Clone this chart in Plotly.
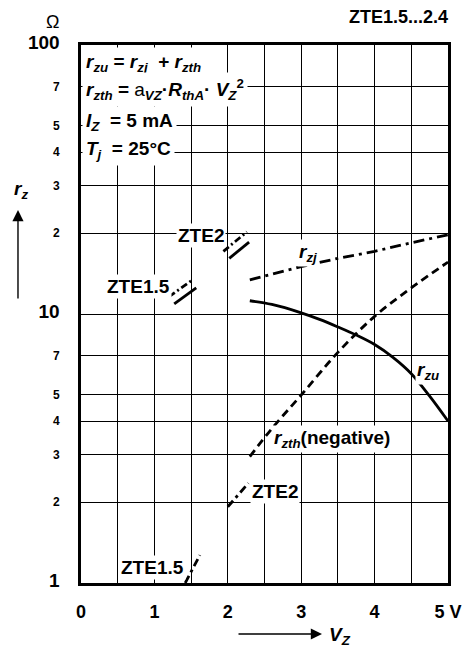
import plotly.graph_objects as go

# values
rzj_v = [2.3, 3.0, 3.5, 4.0, 4.5, 5.0]
rzj = [13.4, 15.0, 16.1, 17.1, 18.4, 19.7]

rzu_v = [2.3, 2.6, 3.0, 3.25, 3.5, 3.75, 4.0, 4.25, 4.5, 4.75, 5.0]
rzu = [11.2, 10.85, 10.1, 9.55, 8.95, 8.35, 7.7, 6.9, 6.0, 4.95, 4.0]

rzth_v = [2.3, 2.6, 3.0, 3.5, 4.0, 4.5, 5.0]
rzth = [2.95, 3.75, 5.0, 7.2, 9.8, 12.5, 15.6]

# short break marks / low-voltage segments for ZTE1.5 and ZTE2
zte2_zj_v, zte2_zj = [1.94, 2.26], [17.1, 20.2]
zte2_zu_v, zte2_zu = [2.02, 2.29], [16.1, 18.5]
zte15_zj_v, zte15_zj = [1.20, 1.52], [11.6, 13.4]
zte15_zu_v, zte15_zu = [1.27, 1.57], [10.9, 12.5]
zte2_th_v, zte2_th = [2.0, 2.28], [1.92, 2.35]
zte15_th_v, zte15_th = [1.42, 1.62], [1.0, 1.27]

x_ticks = [0, 1, 2, 3, 4, 5]
x_labels = ['0', '1', '2', '3', '4', '5 V']
y_ticks = [1, 2, 3, 4, 5, 7, 10, 20, 30, 40, 50, 70, 100]
y_labels = ['1', '2', '3', '4', '5', '7', '10', '2', '3', '4', '5', '7', '100']

FONT = 'Liberation Sans, Arial, sans-serif'
W = 2.8

fig = go.Figure()


def seg(x, y, dash, shape='linear'):
    fig.add_trace(go.Scatter(x=x, y=y, mode='lines', showlegend=False,
                             line=dict(color='black', width=W, dash=dash,
                                       shape=shape),
                             hoverinfo='skip'))


seg(rzj_v, rzj, '11px,5px,3px,5px')
seg(rzu_v, rzu, 'solid', 'spline')
seg(rzth_v, rzth, '8px,5px', 'spline')
seg(zte2_zj_v, zte2_zj, '7px,3px,2px,3px')
seg(zte2_zu_v, zte2_zu, 'solid')
seg(zte15_zj_v, zte15_zj, '7px,3px,2px,3px')
seg(zte15_zu_v, zte15_zu, 'solid')
seg(zte2_th_v, zte2_th, '8px,4px,3px,4px')
seg(zte15_th_v, zte15_th, '8px,4px,3px,4px')

big = [1, 10, 100]
ytext = [f'<span style="font-size:19px">{t}</span>' if v in big else t
         for v, t in zip(y_ticks, y_labels)]

fig.update_xaxes(range=[0, 5], tickvals=x_ticks, ticktext=x_labels,
                 showgrid=True, gridcolor='black', gridwidth=1.3,
                 showline=True, linecolor='black', linewidth=3, mirror=True,
                 ticks='', ticklabelstandoff=10, automargin=False,
                 tickfont=dict(family=FONT, size=18, color='black', weight='bold'),
                 minor=dict(dtick=0.5, tick0=0, showgrid=True,
                            gridcolor='black', gridwidth=1.3, ticks=''),
                 zeroline=False)
fig.update_yaxes(type='log', range=[0, 2], tickvals=y_ticks, ticktext=ytext,
                 showgrid=True, gridcolor='black', gridwidth=1.3,
                 showline=True, linecolor='black', linewidth=3, mirror=True,
                 ticks='', ticklabelstandoff=16, automargin=False,
                 tickfont=dict(family=FONT, size=12, color='black', weight='bold'),
                 zeroline=False)

annots = []


def lab(text, x, y, size=19, xref='x', yref='y', xanchor='center', bg='white',
        pad=1):
    annots.append(dict(text=text, x=x, y=y, xref=xref, yref=yref,
                       xanchor=xanchor, yanchor='middle', showarrow=False,
                       bgcolor=bg, borderpad=pad,
                       font=dict(family=FONT, size=size, color='black')))


lab('<b>ZTE2</b>', 1.635, 1.290)
lab('<b>ZTE1.5</b>', 0.777, 1.104)
lab('<b>ZTE2</b>', 2.64, 0.342)
lab('<b>ZTE1.5</b>', 0.98, 0.059)
lab('<b><i>r<sub>zj</sub></i></b>', 3.09, 1.227, size=19)
lab('<b><i>r<sub>zu</sub></i></b>', 4.73, 0.788, size=19)
lab('<b><i>r<sub>zth</sub></i>(negative)</b>', 3.42, 0.535, size=19)

box = [
    ('<b><i>r<sub>zu</sub></i> = <i>r<sub>zj</sub></i>  + <i>r<sub>zth</sub></i></b>', 0.9665),
    ('<b><i>r<sub>zth</sub></i> = <span style="font-weight:normal">a</span>'
     '<sub><i>VZ</i></sub>·<i>R<sub>thA</sub></i>· <i>V<sub>Z</sub></i><sup>2</sup></b>', 0.9164),
    ('<b><i>I<sub>Z</sub></i>  = 5 mA</b>', 0.857),
    ('<b><i>T<sub>j</sub></i>  = 25°C</b>', 0.805),
]
for t, yy in box:
    lab(t, 0.004, yy, size=19, xref='paper', yref='paper', xanchor='left', pad=3)

lab('<b>ZTE1.5...2.4</b>', 1.005, 1.052, size=18, xref='paper', yref='paper',
    xanchor='right', bg=None)
lab('Ω', -0.079, 1.043, size=18, xref='paper', yref='paper', bg=None)
lab('<b><i>r<sub>z</sub></i></b>', -0.1635, 0.7305, size=19, xref='paper',
    yref='paper', bg=None)
lab('<b><i>V<sub>Z</sub></i></b>', 0.7057, -0.0985, size=19, xref='paper',
    yref='paper', bg=None)

# axis arrows
annots.append(dict(text='', x=-0.1717, y=0.6933, xref='paper', yref='paper',
                   showarrow=True, ax=0, ay=90, arrowhead=2, arrowsize=1.6,
                   arrowwidth=1.4, arrowcolor='black'))
annots.append(dict(text='', x=0.6567, y=-0.0948, xref='paper', yref='paper',
                   showarrow=True, ax=-85, ay=0, arrowhead=2, arrowsize=1.6,
                   arrowwidth=1.4, arrowcolor='black'))

# page body adds an 8px margin, so the figure is drawn 8px smaller
fig.update_layout(width=462, height=644,
                  margin=dict(l=73, r=22, t=37, b=69),
                  plot_bgcolor='white', paper_bgcolor='white',
                  annotations=annots, showlegend=False)

fig.write_html('out.html')
